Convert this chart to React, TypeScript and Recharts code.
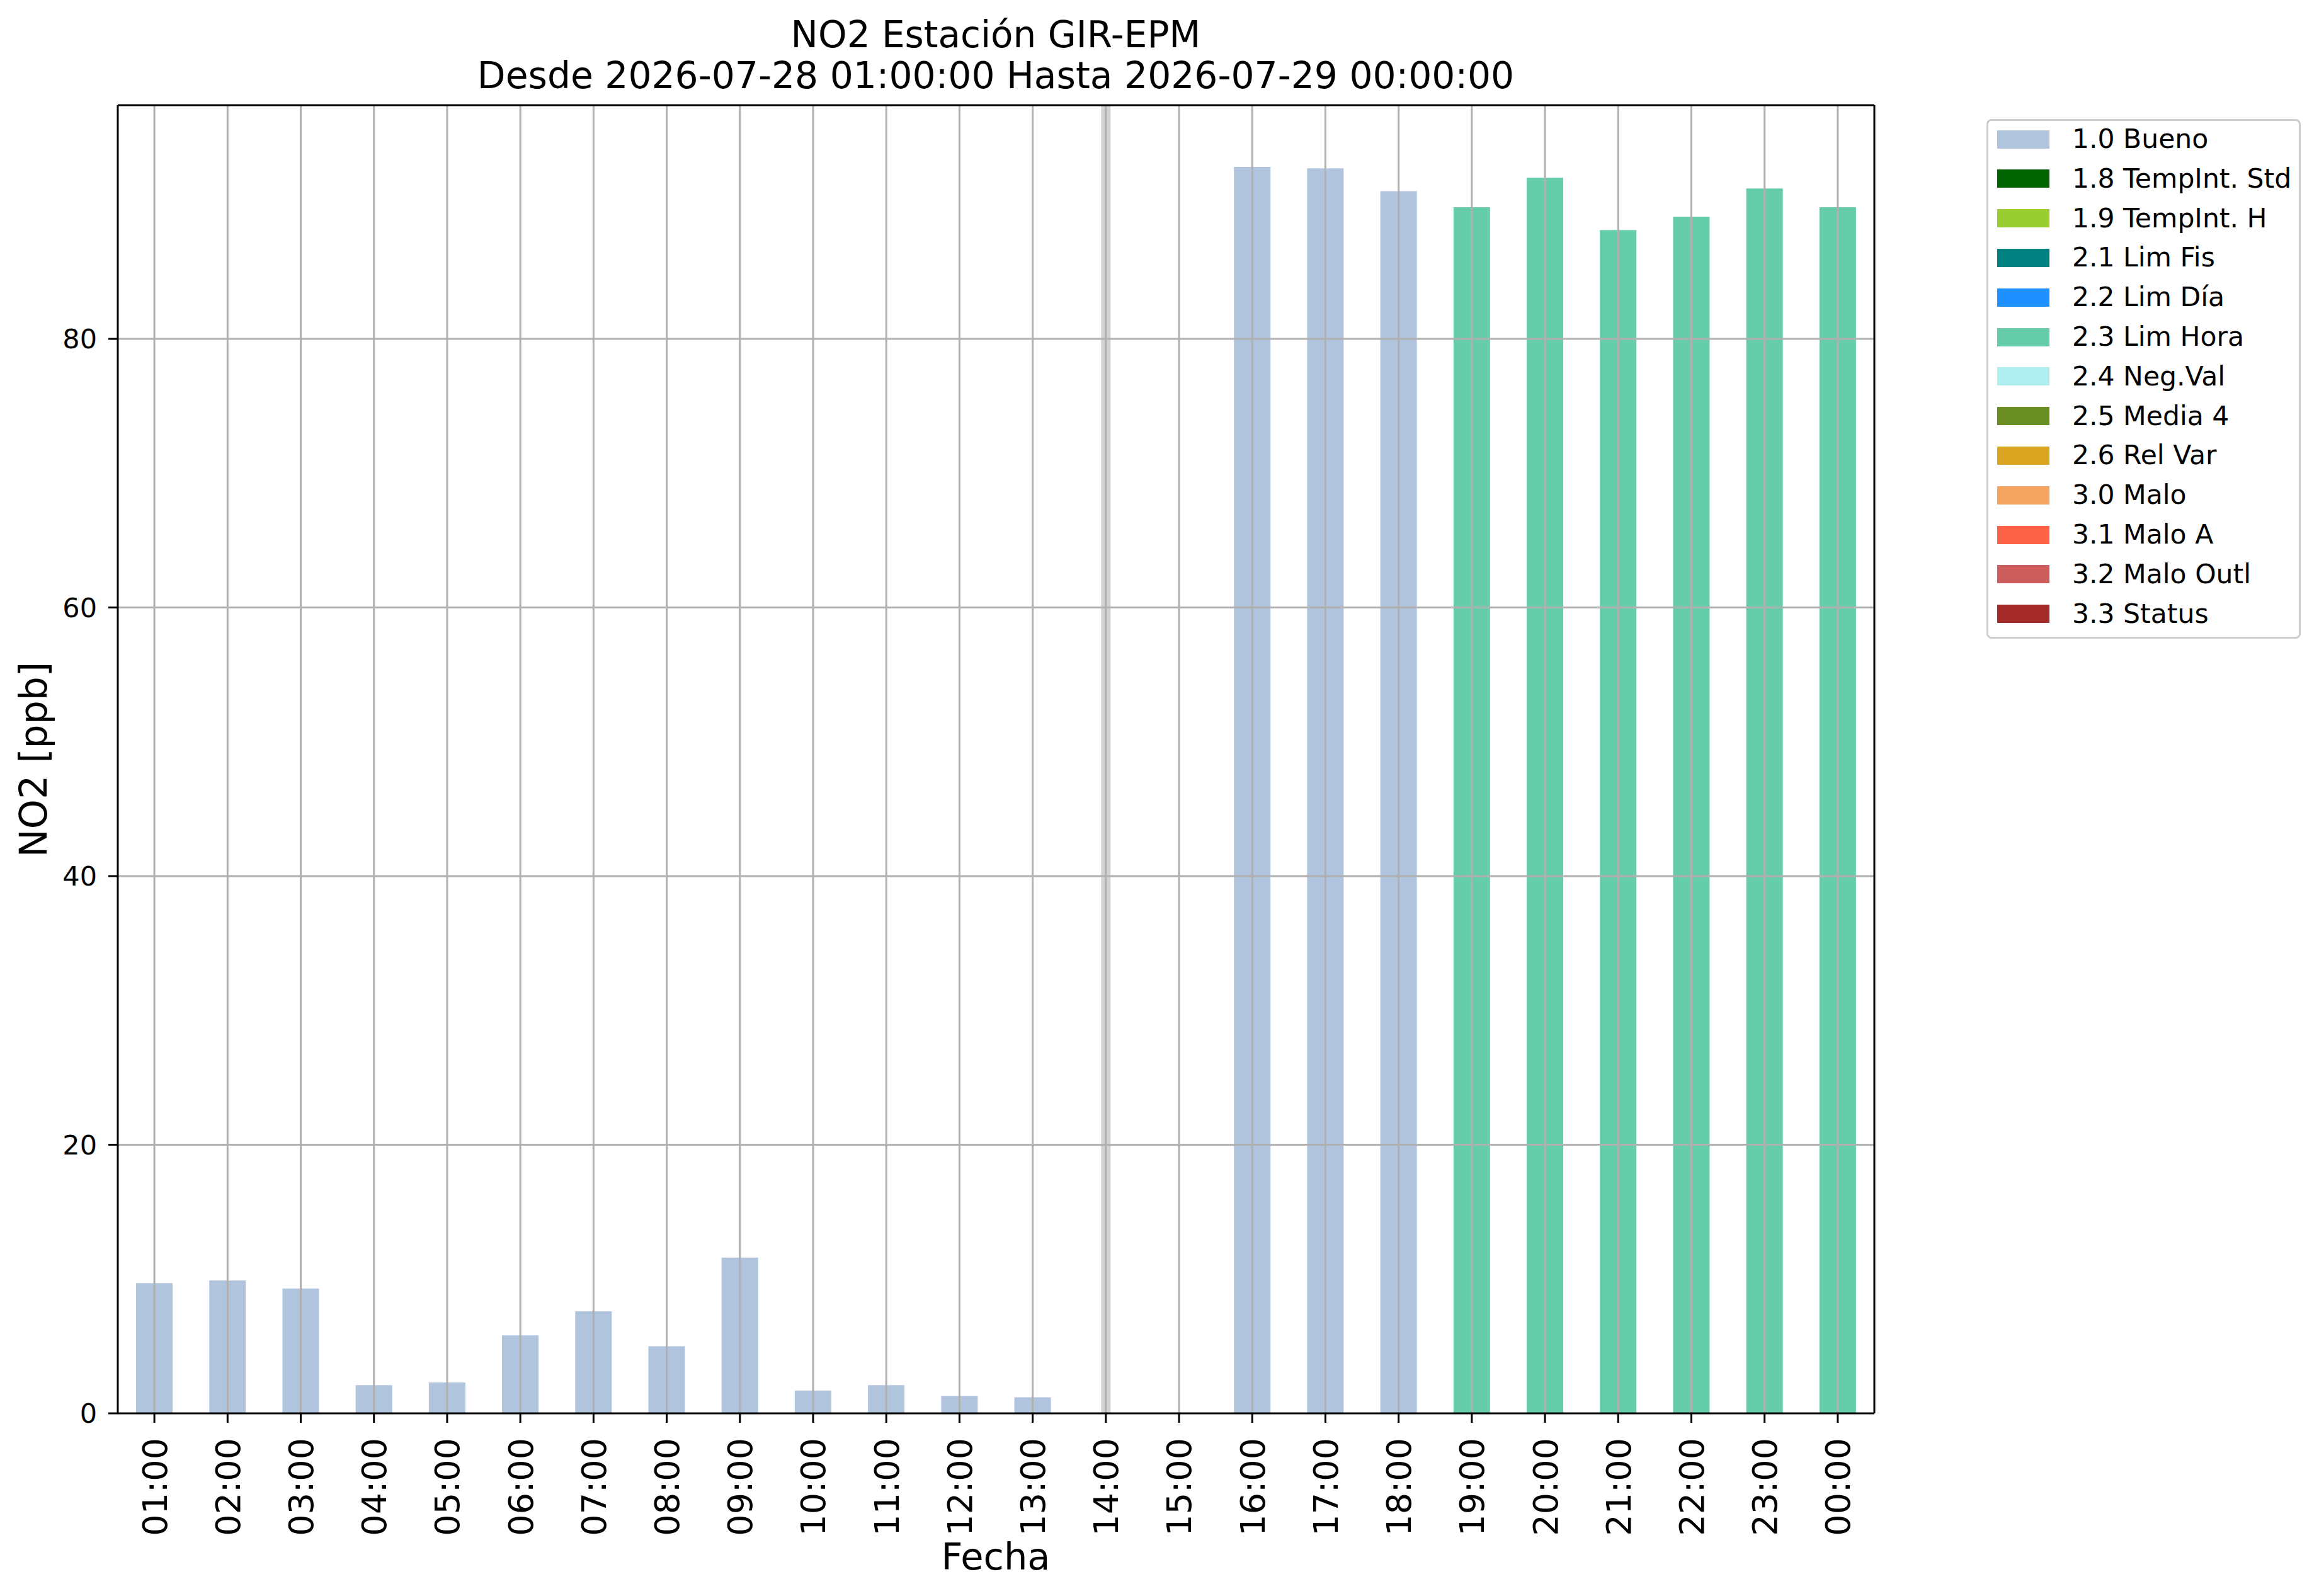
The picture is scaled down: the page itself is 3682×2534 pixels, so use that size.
import React from 'react';
import { Bar, BarChart, Legend, ReferenceLine, XAxis, YAxis } from 'recharts';

// --- datos ---
const hours = [
  '01:00', '02:00', '03:00', '04:00', '05:00', '06:00', '07:00', '08:00',
  '09:00', '10:00', '11:00', '12:00', '13:00', '14:00', '15:00', '16:00',
  '17:00', '18:00', '19:00', '20:00', '21:00', '22:00', '23:00', '00:00',
];

const bueno = [
  9.7, 9.9, 9.3, 2.1, 2.3, 5.8, 7.6, 5.0, 11.6, 1.7, 2.1, 1.3,
  1.2, null, null, 92.8, 92.7, 91.0, null, null, null, null, null, null,
];

const limHora = [
  null, null, null, null, null, null, null, null, null, null, null, null,
  null, null, null, null, null, null, 89.8, 92.0, 88.1, 89.1, 91.2, 89.8,
];

const noData: (number | null)[] = [];

const flagKeys = [
  'bueno', 'tempStd', 'tempH', 'limFis', 'limDia', 'limHora', 'negVal',
  'media4', 'relVar', 'malo', 'maloA', 'maloOutl', 'status',
];
const flagNames = [
  '1.0 Bueno', '1.8 TempInt. Std', '1.9 TempInt. H', '2.1 Lim Fis', '2.2 Lim Día',
  '2.3 Lim Hora', '2.4 Neg.Val', '2.5 Media 4', '2.6 Rel Var', '3.0 Malo',
  '3.1 Malo A', '3.2 Malo Outl', '3.3 Status',
];
const flagColors = [
  '#b0c4de', '#006400', '#9acd32', '#008080', '#1e90ff', '#66cdaa', '#afeeee',
  '#6b8e23', '#daa520', '#f4a460', '#ff6347', '#cd5c5c', '#a52a2a',
];
const flagSeries = [
  bueno, noData, noData, noData, noData, limHora, noData,
  noData, noData, noData, noData, noData, noData,
];

const gapHour = '14:00';
const yTicks = [0, 20, 40, 60, 80];
const yMax = 97.4;

const data = hours.map((hour, i) => {
  const row: Record<string, any> = { hour };
  flagKeys.forEach((k, j) => {
    const v = flagSeries[j][i];
    row[k] = v === undefined ? null : v;
  });
  return row;
});

const FONT = '"DejaVu Sans", sans-serif';
const GRID = '#b0b0b0';

const HourTick = (props: any) => {
  const { x, y, payload } = props;
  return (
    <text
      x={x}
      y={y}
      dy="0.36em"
      textAnchor="end"
      transform={`rotate(-90, ${x}, ${y})`}
      fontSize={54}
      fontFamily={FONT}
      fill="#000"
    >
      {payload.value}
    </text>
  );
};

const FlagLegend = () => (
  <div
    style={{
      position: 'relative',
      boxSizing: 'border-box',
      width: 499,
      height: 825,
      border: '3px solid #cccccc',
      borderRadius: 8,
      background: '#fff',
      fontFamily: FONT,
      fontSize: 42.5,
      color: '#000',
    }}
  >
    {flagNames.map((name, i) => {
      const cy = 29 + i * 62.8;
      return (
        <React.Fragment key={name}>
          <div
            style={{
              position: 'absolute',
              left: 13.5,
              top: cy - 14.5,
              width: 83,
              height: 29,
              background: flagColors[i],
            }}
          />
          <div
            style={{
              position: 'absolute',
              left: 133,
              top: cy - 25,
              height: 50,
              lineHeight: '50px',
              whiteSpace: 'nowrap',
            }}
          >
            {name}
          </div>
        </React.Fragment>
      );
    })}
  </div>
);

const App = () => (
  <div style={{ position: 'absolute', left: 0, top: 0, width: 3682, height: 2534, background: '#fff' }}>
    <BarChart
      width={3682}
      height={2534}
      data={data}
      margin={{ top: 167, right: 706, bottom: 0, left: 0 }}
      barCategoryGap="25%"
    >
      <XAxis
        dataKey="hour"
        height={290}
        interval={0}
        tick={<HourTick />}
        tickSize={15}
        tickMargin={24}
        axisLine={{ stroke: '#000', strokeWidth: 3 }}
        tickLine={{ stroke: '#000', strokeWidth: 3 }}
      />
      <YAxis
        width={187}
        domain={[0, yMax]}
        ticks={yTicks}
        allowDataOverflow
        tickSize={15}
        tickMargin={18}
        tick={{ fill: '#000', fontSize: 43, fontFamily: FONT }}
        axisLine={{ stroke: '#000', strokeWidth: 3 }}
        tickLine={{ stroke: '#000', strokeWidth: 3 }}
      />

      <ReferenceLine x={gapHour} stroke="#d3d3d3" strokeWidth={15} />

      {flagKeys.map((k, j) => (
        <Bar
          key={k}
          dataKey={k}
          name={flagNames[j]}
          stackId="flags"
          fill={flagColors[j]}
          isAnimationActive={false}
        />
      ))}

      {hours.map((h) => (
        <ReferenceLine key={`gx-${h}`} x={h} stroke={GRID} strokeWidth={3} />
      ))}
      {yTicks.filter((t) => t > 0).map((t) => (
        <ReferenceLine key={`gy-${t}`} y={t} stroke={GRID} strokeWidth={3} />
      ))}

      {/* marco superior y derecho */}
      <ReferenceLine y={yMax} stroke="#000" strokeWidth={3} />
      <ReferenceLine x={hours[hours.length - 1]} position="end" stroke="#000" strokeWidth={3} />

      <Legend
        layout="vertical"
        align="center"
        verticalAlign="middle"
        content={<FlagLegend />}
        wrapperStyle={{ position: 'absolute', left: 3154, top: 189, width: 499, height: 825 }}
      />

      <text x={1581} y={75} textAnchor="middle" fontSize={58} fontFamily={FONT} fill="#000">
        NO2 Estación GIR-EPM
      </text>
      <text x={1581} y={140} textAnchor="middle" fontSize={58.3} fontFamily={FONT} fill="#000">
        Desde 2026-07-28 01:00:00 Hasta 2026-07-29 00:00:00
      </text>
      <text x={1581} y={2492} textAnchor="middle" fontSize={59} fontFamily={FONT} fill="#000">
        Fecha
      </text>
      <text
        x={74}
        y={1206}
        textAnchor="middle"
        transform="rotate(-90, 74, 1206)"
        fontSize={60}
        fontFamily={FONT}
        fill="#000"
      >
        NO2 [ppb]
      </text>
    </BarChart>
  </div>
);

export default App;
